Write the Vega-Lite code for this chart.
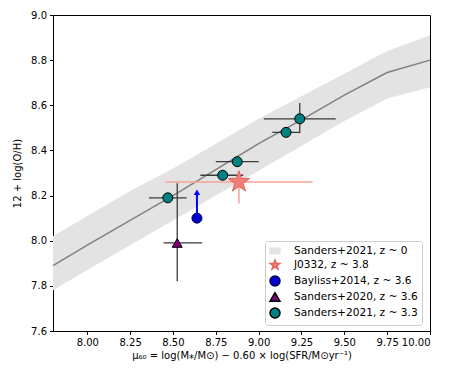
{
  "$schema": "https://vega.github.io/schema/vega-lite/v6.json",
  "width": 377,
  "height": 316,
  "autosize": "none",
  "padding": {"left": 53, "top": 15, "right": 27, "bottom": 50},
  "background": "white",
  "config": {
    "font": "DejaVu Sans",
    "view": {"stroke": "black", "strokeWidth": 1},
    "axis": {"grid": false, "domainColor": "black", "tickColor": "black", "labelColor": "black", "titleColor": "black", "labelFontSize": 10, "titleFontSize": 10, "titleFontWeight": "normal", "tickSize": 3.5, "labelPadding": 3, "labelFont": "DejaVu Sans", "titleFont": "DejaVu Sans"}
  },
  "datasets": {
    "band": [
      {"x": 7.8, "mid": 7.89, "lo": 7.78, "hi": 8.02, "series": "Sanders+2021, z ~ 0"},
      {"x": 8.0, "mid": 7.98, "lo": 7.87, "hi": 8.11, "series": "Sanders+2021, z ~ 0"},
      {"x": 8.25, "mid": 8.09, "lo": 7.98, "hi": 8.22, "series": "Sanders+2021, z ~ 0"},
      {"x": 8.5, "mid": 8.2, "lo": 8.09, "hi": 8.32, "series": "Sanders+2021, z ~ 0"},
      {"x": 8.75, "mid": 8.315, "lo": 8.2, "hi": 8.43, "series": "Sanders+2021, z ~ 0"},
      {"x": 9.0, "mid": 8.43, "lo": 8.31, "hi": 8.54, "series": "Sanders+2021, z ~ 0"},
      {"x": 9.25, "mid": 8.535, "lo": 8.42, "hi": 8.64, "series": "Sanders+2021, z ~ 0"},
      {"x": 9.5, "mid": 8.645, "lo": 8.53, "hi": 8.74, "series": "Sanders+2021, z ~ 0"},
      {"x": 9.75, "mid": 8.745, "lo": 8.63, "hi": 8.84, "series": "Sanders+2021, z ~ 0"},
      {"x": 10.0, "mid": 8.8, "lo": 8.68, "hi": 8.91, "series": "Sanders+2021, z ~ 0"}
    ],
    "pts": [
      {"series": "Sanders+2020, z ~ 3.6", "x": 8.525, "y": 7.99, "xlo": 8.445, "xhi": 8.67, "ylo": 7.82, "yhi": 8.255},
      {"series": "Sanders+2021, z ~ 3.3", "x": 8.47, "y": 8.19, "xlo": 8.36, "xhi": 8.58, "ylo": 8.17, "yhi": 8.21},
      {"series": "Sanders+2021, z ~ 3.3", "x": 8.79, "y": 8.29, "xlo": 8.66, "xhi": 8.91, "ylo": 8.28, "yhi": 8.3},
      {"series": "Sanders+2021, z ~ 3.3", "x": 8.875, "y": 8.35, "xlo": 8.75, "xhi": 9.0, "ylo": 8.33, "yhi": 8.37},
      {"series": "Sanders+2021, z ~ 3.3", "x": 9.16, "y": 8.48, "xlo": 9.08, "xhi": 9.24, "ylo": 8.47, "yhi": 8.49},
      {"series": "Sanders+2021, z ~ 3.3", "x": 9.24, "y": 8.54, "xlo": 9.03, "xhi": 9.45, "ylo": 8.476, "yhi": 8.61}
    ],
    "star": [
      {"series": "J0332, z ~ 3.8", "x": 8.885, "y": 8.26, "xlo": 8.455, "xhi": 9.315, "ylo": 8.165, "yhi": 8.31}
    ],
    "arrow": [
      {"series": "Bayliss+2014, z ~ 3.6", "x": 8.64, "y": 8.1, "ytip": 8.215}
    ],
    "markers": [
      {"series": "Sanders+2020, z ~ 3.6", "x": 8.525, "y": 7.99},
      {"series": "Bayliss+2014, z ~ 3.6", "x": 8.64, "y": 8.1},
      {"series": "Sanders+2021, z ~ 3.3", "x": 8.47, "y": 8.19},
      {"series": "Sanders+2021, z ~ 3.3", "x": 8.79, "y": 8.29},
      {"series": "Sanders+2021, z ~ 3.3", "x": 8.875, "y": 8.35},
      {"series": "Sanders+2021, z ~ 3.3", "x": 9.16, "y": 8.48},
      {"series": "Sanders+2021, z ~ 3.3", "x": 9.24, "y": 8.54},
      {"series": "J0332, z ~ 3.8", "x": 8.885, "y": 8.26}
    ]
  },
  "encoding": {
    "x": {"type": "quantitative", "scale": {"domain": [7.8, 10.0], "nice": false, "zero": false},
      "axis": {"values": [8.0, 8.25, 8.5, 8.75, 9.0, 9.25, 9.5, 9.75, 10.0], "format": ".2f", "title": "μ₆₀ = log(M⁎/M⊙) − 0.60 × log(SFR/M⊙yr⁻¹)", "titlePadding": 3}},
    "y": {"type": "quantitative", "scale": {"domain": [7.6, 9.0], "nice": false, "zero": false},
      "axis": {"values": [7.6, 7.8, 8.0, 8.2, 8.4, 8.6, 8.8, 9.0], "format": ".1f", "title": "12 + log(O/H)", "titlePadding": 8}}
  },
  "layer": [
    {
      "data": {"name": "band"},
      "mark": {"type": "area", "opacity": 1},
      "encoding": {
        "x": {"field": "x"},
        "y": {"field": "lo"},
        "y2": {"field": "hi"},
        "color": {"field": "series", "type": "nominal",
          "scale": {"domain": ["Sanders+2021, z ~ 0", "J0332, z ~ 3.8", "Bayliss+2014, z ~ 3.6", "Sanders+2020, z ~ 3.6", "Sanders+2021, z ~ 3.3"],
                    "range": ["#e3e3e3", "#f37e76", "#0000cc", "#7f007f", "#008080"]},
          "legend": {"title": null, "orient": "none", "legendX": 212, "legendY": 226, "padding": 4,
            "strokeColor": "#cccccc", "fillColor": "white", "cornerRadius": 3,
            "labelFontSize": 10.6, "labelFont": "DejaVu Sans", "labelColor": "black", "labelOffset": 13,
            "symbolSize": 100, "rowPadding": 0,
            "encode": {"symbols": {"update": {"size": {"signal": "datum.value === 'J0332, z ~ 3.8' ? 260 : datum.value === 'Sanders+2021, z ~ 0' ? 190 : 80"}}}}}
        }
      }
    },
    {
      "data": {"name": "band"},
      "mark": {"type": "line", "color": "#808080", "strokeWidth": 1.5},
      "encoding": {"x": {"field": "x"}, "y": {"field": "mid"}}
    },
    {
      "data": {"name": "pts"},
      "mark": {"type": "rule", "color": "#3a3a3a", "strokeWidth": 1.3},
      "encoding": {"x": {"field": "xlo"}, "x2": {"field": "xhi"}, "y": {"field": "y"}}
    },
    {
      "data": {"name": "pts"},
      "mark": {"type": "rule", "color": "#3a3a3a", "strokeWidth": 1.3},
      "encoding": {"x": {"field": "x"}, "y": {"field": "ylo"}, "y2": {"field": "yhi"}}
    },
    {
      "data": {"name": "star"},
      "mark": {"type": "rule", "color": "#f5a39c", "strokeWidth": 1.5},
      "encoding": {"x": {"field": "xlo"}, "x2": {"field": "xhi"}, "y": {"field": "y"}}
    },
    {
      "data": {"name": "star"},
      "mark": {"type": "rule", "color": "#f5a39c", "strokeWidth": 1.5},
      "encoding": {"x": {"field": "x"}, "y": {"field": "ylo"}, "y2": {"field": "yhi"}}
    },
    {
      "data": {"name": "arrow"},
      "mark": {"type": "rule", "color": "#0000ff", "strokeWidth": 2},
      "encoding": {"x": {"field": "x"}, "y": {"field": "y"}, "y2": {"field": "ytip"}}
    },
    {
      "data": {"name": "arrow"},
      "mark": {"type": "point", "shape": "triangle-up", "filled": true, "color": "#0000ff", "size": 40, "opacity": 1},
      "encoding": {"x": {"field": "x"}, "y": {"field": "ytip"}}
    },
    {
      "data": {"name": "markers"},
      "mark": {"type": "point", "filled": true, "opacity": 1, "strokeWidth": 1},
      "encoding": {
        "x": {"field": "x"},
        "y": {"field": "y"},
        "color": {"field": "series", "type": "nominal"},
        "shape": {"field": "series", "type": "nominal",
          "scale": {"domain": ["Sanders+2021, z ~ 0", "J0332, z ~ 3.8", "Bayliss+2014, z ~ 3.6", "Sanders+2020, z ~ 3.6", "Sanders+2021, z ~ 3.3"],
                    "range": ["M-1,-0.55L1,-0.55L1,0.55L-1,0.55Z", "M0,-1L0.235,-0.324L0.951,-0.309L0.38,0.124L0.588,0.809L0,0.4L-0.588,0.809L-0.38,0.124L-0.951,-0.309L-0.235,-0.324Z", "circle", "triangle-up", "circle"]}},
        "stroke": {"field": "series", "type": "nominal",
          "scale": {"domain": ["Sanders+2021, z ~ 0", "J0332, z ~ 3.8", "Bayliss+2014, z ~ 3.6", "Sanders+2020, z ~ 3.6", "Sanders+2021, z ~ 3.3"],
                    "range": ["#e3e3e3", "#e5655c", "#00005a", "#000000", "#000000"]}},
        "size": {"condition": {"test": "datum.series === 'J0332, z ~ 3.8'", "value": 500}, "value": 100}
      }
    }
  ]
}
